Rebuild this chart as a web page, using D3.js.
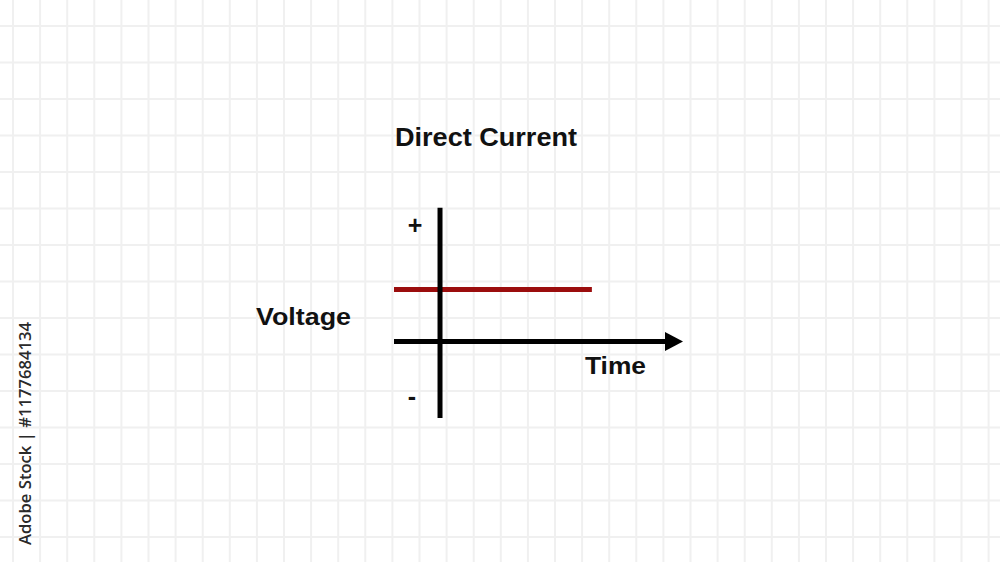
<!DOCTYPE html>
<html>
<head>
<meta charset="utf-8">
<script src="https://cdn.jsdelivr.net/npm/d3@7"></script>
<style>
  body { margin: 0; background: #fff; }
  text { font-family: "Liberation Sans", Arial, sans-serif; font-weight: bold; fill: #111; }
  text.caption { font-family: "Open Sans", sans-serif; font-weight: 600; fill: #2a2a2a; }
</style>
</head>
<body>
<div id="svg-holder"></div>
<script>
// data
const time = [-1, 3.3];        // red DC line, start and end
const voltage = [1, 1];        // constant level
const timeAxis = [-1, 5.28];   // horizontal axis extent
const voltAxis = [-1.47, 2.57]; // vertical axis extent
const signs = ["+", "-"];

const W = 1000, H = 562;
let svg = d3.select("#svg-holder").append("svg")
  .attr("width", W)
  .attr("height", H);

// paper grid
let gx = d3.range(13, W, 27.1);
let gy = d3.range(26, H, 36.5);
svg.append("g").selectAll("line").data(gx).join("line")
  .attr("x1", d => d).attr("x2", d => d)
  .attr("y1", 0).attr("y2", H)
  .attr("stroke", "#f0f0f0").attr("stroke-width", 2);
svg.append("g").selectAll("line").data(gy).join("line")
  .attr("y1", d => d).attr("y2", d => d)
  .attr("x1", 0).attr("x2", W)
  .attr("stroke", "#f0f0f0").attr("stroke-width", 2);

// scales
let x = d3.scaleLinear().domain(timeAxis).range([394, 683]);
let y = d3.scaleLinear().domain(voltAxis).range([418, 207.7]);

// red DC level
svg.append("line")
  .attr("x1", x(time[0])).attr("x2", x(time[1]))
  .attr("y1", y(voltage[0])).attr("y2", y(voltage[1]))
  .attr("stroke", "#9b0d0d").attr("stroke-width", 5);

// vertical axis
svg.append("line")
  .attr("x1", x(0)).attr("x2", x(0))
  .attr("y1", y(voltAxis[1])).attr("y2", y(voltAxis[0]))
  .attr("stroke", "#000").attr("stroke-width", 5);

// horizontal axis with arrow
let tip = x(timeAxis[1]);
svg.append("line")
  .attr("x1", x(timeAxis[0])).attr("x2", tip - 14)
  .attr("y1", y(0)).attr("y2", y(0))
  .attr("stroke", "#000").attr("stroke-width", 5);
svg.append("polygon")
  .attr("points", `${tip - 18},${y(0) - 9.5} ${tip},${y(0)} ${tip - 18},${y(0) + 9.5}`)
  .attr("fill", "#000");

// labels
svg.append("text").attr("x", 395).attr("y", 146)
  .attr("font-size", 25).attr("textLength", 182).attr("lengthAdjust", "spacingAndGlyphs")
  .text("Direct Current");
svg.append("text").attr("x", 256).attr("y", 325)
  .attr("font-size", 24).attr("textLength", 95).attr("lengthAdjust", "spacingAndGlyphs")
  .text("Voltage");
svg.append("text").attr("x", 585).attr("y", 374)
  .attr("font-size", 24).attr("textLength", 61).attr("lengthAdjust", "spacingAndGlyphs")
  .text("Time");
svg.append("text").attr("x", 415).attr("y", 234).attr("text-anchor", "middle")
  .attr("font-size", 25).text(signs[0]);
svg.append("text").attr("x", 412).attr("y", 405).attr("text-anchor", "middle")
  .attr("font-size", 25).text(signs[1]);

// side caption
svg.append("text").attr("class", "caption")
  .attr("transform", "translate(31,545) rotate(-90)")
  .attr("font-size", 17)
  .attr("textLength", 223).attr("lengthAdjust", "spacingAndGlyphs")
  .text("Adobe Stock | #1177684134");
</script>
</body>
</html>
